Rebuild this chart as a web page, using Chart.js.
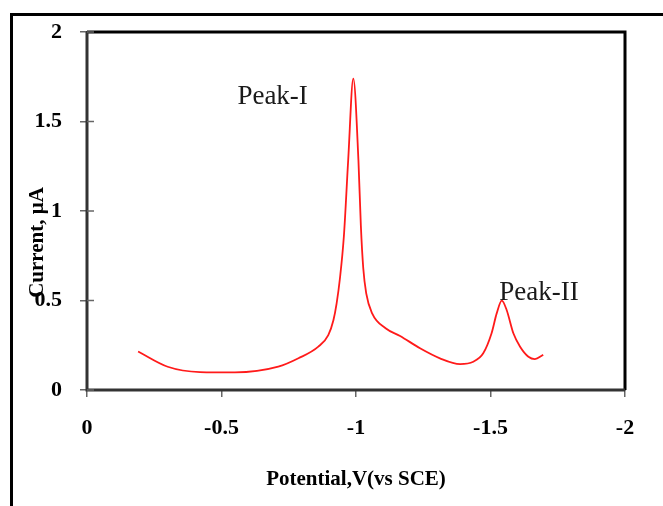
<!DOCTYPE html>
<html>
<head>
<meta charset="utf-8">
<script src="https://cdn.jsdelivr.net/npm/chart.js@4.4.1/dist/chart.umd.min.js"></script>
<style>
  html, body { margin: 0; padding: 0; background: #ffffff; }
  #wrap { position: relative; width: 663px; height: 506px; }
  canvas { display: block; }
</style>
</head>
<body>
<div id="wrap"><canvas id="c" width="663" height="506"></canvas></div>
<script>
// ---- data ----
const potentials = [-0.19, -0.30, -0.42, -0.55, -0.711, -0.786, -0.86, -0.897, -0.916, -0.928, -0.940, -0.955, -0.971, -0.99, -1.009, -1.018, -1.027, -1.038, -1.06, -1.11, -1.164, -1.238, -1.312, -1.387, -1.436, -1.473, -1.504, -1.523, -1.542, -1.56, -1.585, -1.61, -1.641, -1.665, -1.696];
const currents   = [0.215, 0.13, 0.10, 0.098, 0.13, 0.177, 0.242, 0.307, 0.39, 0.484, 0.62, 0.86, 1.285, 1.74, 1.285, 0.92, 0.68, 0.54, 0.428, 0.345, 0.302, 0.233, 0.177, 0.145, 0.158, 0.205, 0.317, 0.428, 0.499, 0.447, 0.317, 0.242, 0.186, 0.173, 0.196];
const xTicks = [0, -0.5, -1, -1.5, -2];
const yTicks = [0, 0.5, 1, 1.5, 2];
const peakLabels = ['Peak-I', 'Peak-II'];
const peakLabelX = [-0.69, -1.68];
const peakLabelY = [1.64, 0.54];

const points = potentials.map((x, i) => ({ x: x, y: currents[i] }));

const serif = "'Liberation Serif', 'Times New Roman', serif";

const decorPlugin = {
  id: 'decor',
  beforeDraw(chart) {
    const ctx = chart.ctx;
    ctx.save();
    ctx.fillStyle = '#ffffff';
    ctx.fillRect(0, 0, chart.width, chart.height);
    ctx.fillStyle = '#000000';
    // outer frame (top and left visible)
    ctx.fillRect(10, 13, chart.width - 10, 3);
    ctx.fillRect(10, 13, 3, chart.height - 13);
    ctx.restore();
  },
  afterDraw(chart) {
    const ctx = chart.ctx;
    const a = chart.chartArea;
    ctx.save();
    // plot frame
    ctx.strokeStyle = '#000000';
    ctx.lineWidth = 3;
    ctx.beginPath();
    ctx.moveTo(a.left, a.top);
    ctx.lineTo(a.right, a.top);
    ctx.lineTo(a.right, a.bottom);
    ctx.stroke();
    ctx.strokeStyle = '#333333';
    ctx.lineWidth = 3;
    ctx.beginPath();
    ctx.moveTo(a.left, a.top);
    ctx.lineTo(a.left, a.bottom);
    ctx.lineTo(a.right, a.bottom);
    ctx.stroke();
    // inward parts of y ticks
    const ys = chart.scales.y;
    ctx.strokeStyle = '#666666';
    ctx.lineWidth = 1.5;
    yTicks.forEach(v => {
      const py = ys.getPixelForValue(v);
      ctx.beginPath();
      ctx.moveTo(a.left, py);
      ctx.lineTo(a.left + 7, py);
      ctx.stroke();
    });
    // peak annotations
    const xs = chart.scales.x;
    ctx.fillStyle = '#1a1a1a';
    ctx.font = "27px " + serif;
    ctx.textAlign = 'center';
    ctx.textBaseline = 'middle';
    peakLabels.forEach((t, i) => {
      ctx.fillText(t, xs.getPixelForValue(peakLabelX[i]), ys.getPixelForValue(peakLabelY[i]));
    });
    ctx.restore();
  }
};

new Chart(document.getElementById('c'), {
  type: 'line',
  data: {
    datasets: [{
      data: points,
      borderColor: '#ff1a1a',
      borderWidth: 1.8,
      pointRadius: 0,
      fill: false,
      cubicInterpolationMode: 'monotone'
    }]
  },
  options: {
    responsive: false,
    animation: false,
    devicePixelRatio: 1,
    layout: { padding: { top: 32, right: 38, left: 0, bottom: 0 } },
    plugins: { legend: { display: false }, tooltip: { enabled: false } },
    scales: {
      x: {
        type: 'linear',
        reverse: true,
        min: -2, max: 0,
        afterBuildTicks(scale) { scale.ticks = xTicks.map(v => ({ value: v })); },
        afterFit(scale) { scale.height = 116; },
        ticks: {
          color: '#000000',
          font: { family: serif, size: 22, weight: 'bold' },
          padding: 18,
          maxRotation: 0,
          callback: v => String(v)
        },
        grid: { drawOnChartArea: false, drawTicks: true, tickLength: 7, color: '#666666', lineWidth: 1.5 },
        border: { display: true, color: '#000000', width: 2 },
        title: {
          display: true,
          text: 'Potential,V(vs SCE)',
          color: '#000000',
          font: { family: serif, size: 21, weight: 'bold' },
          padding: { top: 0, bottom: 14 }
        }
      },
      y: {
        type: 'linear',
        min: 0, max: 2,
        afterBuildTicks(scale) { scale.ticks = yTicks.map(v => ({ value: v })); },
        afterFit(scale) { scale.width = 87; },
        ticks: {
          color: '#000000',
          font: { family: serif, size: 22, weight: 'bold' },
          padding: 18,
          callback: v => String(v)
        },
        grid: { drawOnChartArea: false, drawTicks: true, tickLength: 7, color: '#666666', lineWidth: 1.5 },
        border: { display: true, color: '#333333', width: 2 },
        title: {
          display: true,
          text: 'Current, μA\u2003\u2003\u2003',
          color: '#000000',
          font: { family: serif, size: 21, weight: 'bold' },
          padding: { top: 25, bottom: 0 }
        }
      }
    }
  },
  plugins: [decorPlugin]
});
</script>
</body>
</html>
